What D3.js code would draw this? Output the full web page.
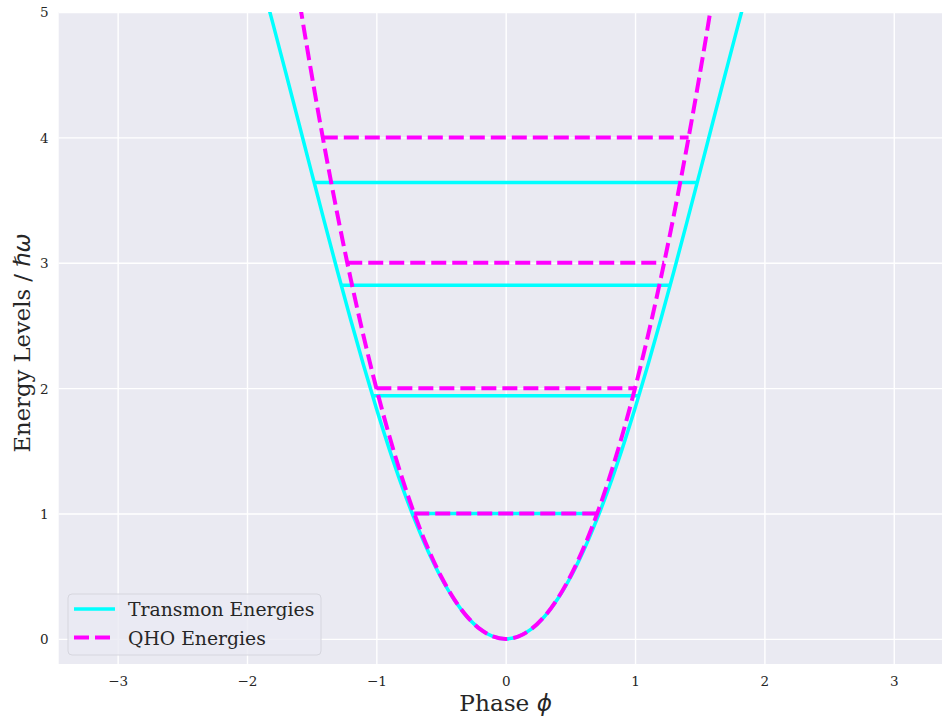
<!DOCTYPE html>
<html>
<head>
<meta charset="utf-8">
<script src="https://cdn.jsdelivr.net/npm/d3@7"></script>
<style>
  body { margin: 0; background: #fff; }
  text { font-family: "DejaVu Serif", serif; fill: #262626; }
</style>
</head>
<body>
<svg id="chart"></svg>
<script>
// phase samples and the two potentials
var phi = [-1.9, -1.8, -1.7, -1.6, -1.5, -1.4, -1.3, -1.2, -1.1, -1.0,
           -0.9, -0.8, -0.7, -0.6, -0.5, -0.4, -0.3, -0.2, -0.1, 0,
           0.1, 0.2, 0.3, 0.4, 0.5, 0.6, 0.7, 0.8, 0.9, 1.0,
           1.1, 1.2, 1.3, 1.4, 1.5, 1.6, 1.7, 1.8, 1.9];
var transmonU = [5.293, 4.909, 4.515, 4.117, 3.717, 3.320, 2.930, 2.551, 2.186, 1.839,
                 1.514, 1.213, 0.941, 0.699, 0.490, 0.316, 0.179, 0.080, 0.020, 0,
                 0.020, 0.080, 0.179, 0.316, 0.490, 0.699, 0.941, 1.213, 1.514, 1.839,
                 2.186, 2.551, 2.930, 3.320, 3.717, 4.117, 4.515, 4.909, 5.293];
var qhoU = [7.22, 6.48, 5.78, 5.12, 4.50, 3.92, 3.38, 2.88, 2.42, 2.00,
            1.62, 1.28, 0.98, 0.72, 0.50, 0.32, 0.18, 0.08, 0.02, 0,
            0.02, 0.08, 0.18, 0.32, 0.50, 0.72, 0.98, 1.28, 1.62, 2.00,
            2.42, 2.88, 3.38, 3.92, 4.50, 5.12, 5.78, 6.48, 7.22];

// energy levels and the phase where each one meets its potential
var transmonLevels = [1.00, 1.94, 2.82, 3.64];
var transmonHalfWidth = [0.723, 1.030, 1.271, 1.481];
var qhoLevels = [1, 2, 3, 4];
var qhoHalfWidth = [0.707, 1.000, 1.225, 1.414];

var xTicks = [-3, -2, -1, 0, 1, 2, 3];
var yTicks = [0, 1, 2, 3, 4, 5];
var legendLabels = ["Transmon Energies", "QHO Energies"];

var W = 942, H = 720;
var margin = { top: 12, left: 58.7, bottom: 56 };
var plotRight = 952.7;

var svg = d3.select("#chart").attr("width", W).attr("height", H);

var x = d3.scaleLinear().domain([-1.1 * Math.PI, 1.1 * Math.PI]).range([margin.left, plotRight]);
var y = d3.scaleLinear().domain([-0.2, 5]).range([H - margin.bottom, margin.top]);

// background
svg.append("rect")
   .attr("x", margin.left).attr("y", margin.top)
   .attr("width", plotRight - margin.left)
   .attr("height", y.range()[0] - margin.top)
   .attr("fill", "#eaeaf2");

svg.append("defs").append("clipPath").attr("id", "clip")
   .append("rect")
   .attr("x", margin.left).attr("y", margin.top)
   .attr("width", plotRight - margin.left)
   .attr("height", y.range()[0] - margin.top);

// grid
var xAxis = d3.axisBottom(x).tickValues(xTicks).tickSize(-(y.range()[0] - margin.top)).tickPadding(12)
              .tickFormat(function(d) { return d < 0 ? "\u2212" + (-d) : d; });
var gx = svg.append("g").attr("transform", "translate(0," + y.range()[0] + ")").call(xAxis);

var yAxis = d3.axisLeft(y).tickValues(yTicks).tickSize(-(plotRight - margin.left)).tickPadding(10)
              .tickFormat(d3.format("d"));
var gy = svg.append("g").attr("transform", "translate(" + margin.left + ",0)").call(yAxis);

[gx, gy].forEach(function(g) {
  g.select(".domain").remove();
  g.selectAll(".tick line").attr("stroke", "#fff").attr("stroke-width", 1.4);
  g.selectAll(".tick text").attr("font-size", 13.5).attr("fill", "#262626")
   .style("font-family", "DejaVu Serif");
});
gy.selectAll(".tick text").attr("dy", "0.36em");

var plot = svg.append("g").attr("clip-path", "url(#clip)");

var line = d3.line()
             .x(function(d) { return x(d[0]); })
             .y(function(d) { return y(d[1]); })
             .curve(d3.curveCatmullRom);

var cyan = "#00ffff", magenta = "#ff00ff";

// transmon
plot.append("path")
    .datum(d3.zip(phi, transmonU))
    .attr("d", line)
    .attr("fill", "none")
    .attr("stroke", cyan)
    .attr("stroke-width", 3.5);

plot.selectAll("t-levels")
    .data(d3.zip(transmonLevels, transmonHalfWidth))
    .enter()
    .append("line")
    .attr("x1", function(d) { return x(-d[1]); })
    .attr("x2", function(d) { return x(d[1]); })
    .attr("y1", function(d) { return y(d[0]); })
    .attr("y2", function(d) { return y(d[0]); })
    .attr("stroke", cyan)
    .attr("stroke-width", 3.5);

// qho
plot.append("path")
    .datum(d3.zip(phi, qhoU))
    .attr("d", line)
    .attr("fill", "none")
    .attr("stroke", magenta)
    .attr("stroke-width", 4)
    .attr("stroke-dasharray", "15,6");

plot.selectAll("q-levels")
    .data(d3.zip(qhoLevels, qhoHalfWidth))
    .enter()
    .append("line")
    .attr("x1", function(d) { return x(-d[1]); })
    .attr("x2", function(d) { return x(d[1]); })
    .attr("y1", function(d) { return y(d[0]); })
    .attr("y2", function(d) { return y(d[0]); })
    .attr("stroke", magenta)
    .attr("stroke-width", 4)
    .attr("stroke-dasharray", "15,6");

// axis labels
svg.append("text")
   .attr("x", (margin.left + plotRight) / 2).attr("y", 711)
   .attr("text-anchor", "middle").attr("font-size", 23.2)
   .text("Phase ")
   .append("tspan").style("font-family", "DejaVu Sans").attr("font-style", "italic").text("\u03d5");

var yl = svg.append("text")
   .attr("transform", "translate(30,343) rotate(-90)")
   .attr("text-anchor", "middle").attr("font-size", 22.7)
   .text("Energy Levels / ");
yl.append("tspan").style("font-family", "DejaVu Sans").attr("font-style", "italic").text("\u210f\u03c9");

// legend
var lg = svg.append("g");
lg.append("rect")
  .attr("x", 68).attr("y", 594).attr("width", 253).attr("height", 61)
  .attr("rx", 4)
  .attr("fill", "#eaeaf2").attr("fill-opacity", 0.8)
  .attr("stroke", "#d6d6de").attr("stroke-width", 1);

var legendStyles = [
  { color: cyan, width: 3.5, dash: null },
  { color: magenta, width: 4, dash: "15,6" }
];
legendLabels.forEach(function(label, i) {
  var cy = 609 + i * 28.5;
  lg.append("line")
    .attr("x1", 74).attr("x2", 115).attr("y1", cy).attr("y2", cy)
    .attr("stroke", legendStyles[i].color)
    .attr("stroke-width", legendStyles[i].width)
    .attr("stroke-dasharray", legendStyles[i].dash);
  lg.append("text")
    .attr("x", 128).attr("y", cy + 7)
    .attr("font-size", 18.8)
    .text(label);
});
</script>
</body>
</html>
